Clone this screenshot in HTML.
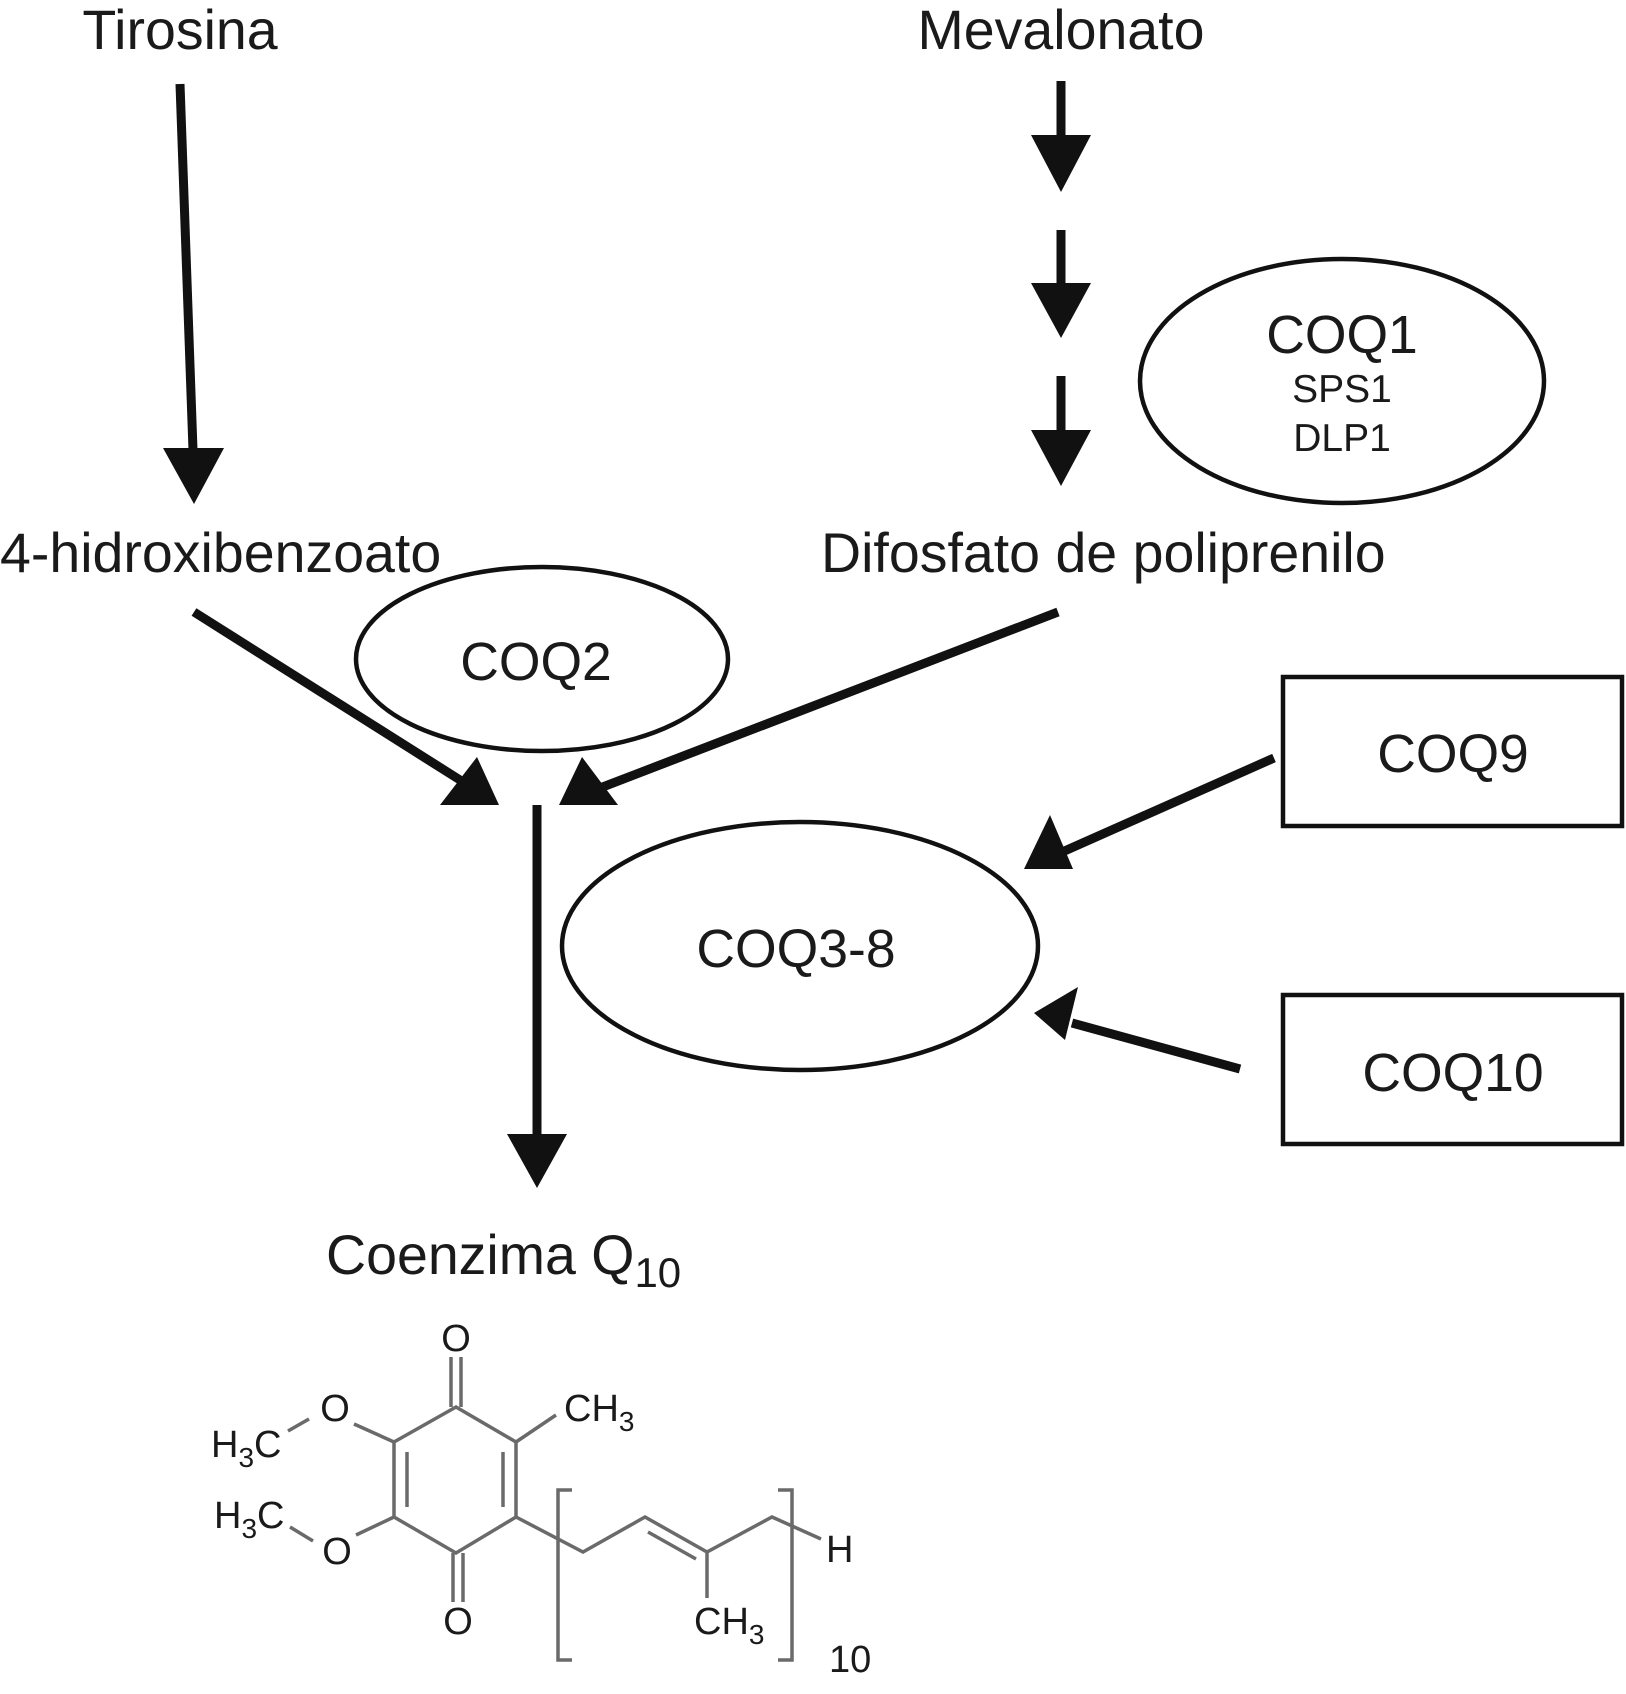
<!DOCTYPE html>
<html><head><meta charset="utf-8"><style>
html,body{margin:0;padding:0;background:#fff}
svg{display:block}
text{font-family:"Liberation Sans",Arial,sans-serif;fill:#1a1a1a}
</style></head><body>
<svg width="1626" height="1694" viewBox="0 0 1626 1694" xmlns="http://www.w3.org/2000/svg">
<g font-size="55.5">
<text x="180" y="49" text-anchor="middle">Tirosina</text>
<text x="1061" y="49" text-anchor="middle">Mevalonato</text>
<text x="0" y="572">4-hidroxibenzoato</text>
<text x="821" y="572">Difosfato de poliprenilo</text>
<text x="326" y="1274">Coenzima Q<tspan font-size="42" dy="13">10</tspan></text>
</g>
<g stroke="#111" stroke-width="9" fill="none">
<line x1="180" y1="84" x2="193" y2="450"/>
<line x1="1061" y1="81" x2="1061" y2="138"/>
<line x1="1061" y1="230" x2="1061" y2="286"/>
<line x1="1061" y1="376" x2="1061" y2="433"/>
<line x1="194" y1="612" x2="460" y2="780"/>
<line x1="1058" y1="612" x2="600" y2="788"/>
<line x1="537" y1="805" x2="537" y2="1138"/>
<line x1="1274" y1="758" x2="1060" y2="853"/>
<line x1="1240" y1="1069" x2="1072" y2="1023"/>
</g>
<g fill="#111">
<polygon points="163,448 224,448 194,504"/>
<polygon points="1031,135 1091,135 1061,192"/>
<polygon points="1031,283 1091,283 1061,338"/>
<polygon points="1031,430 1091,430 1061,486"/>
<polygon points="499,805 440,805 477,757"/>
<polygon points="559,805 582,757 618,805"/>
<polygon points="507,1134 567,1134 537,1188"/>
<polygon points="1024,869 1050,815 1073,869"/>
<polygon points="1034,1013 1078,987 1065,1040"/>
</g>
<g fill="none" stroke="#111" stroke-width="4.5">
<ellipse cx="1342" cy="381" rx="202" ry="122"/>
<ellipse cx="542" cy="659" rx="186" ry="92"/>
<ellipse cx="800" cy="946" rx="238" ry="124"/>
<rect x="1283" y="677" width="339" height="149"/>
<rect x="1283" y="995" width="339" height="149"/>
</g>
<text x="1342" y="353" font-size="53.5" text-anchor="middle">COQ1</text>
<text x="1342" y="402" font-size="39" text-anchor="middle">SPS1</text>
<text x="1342" y="451" font-size="39" text-anchor="middle">DLP1</text>
<text x="536" y="680" font-size="53.5" text-anchor="middle">COQ2</text>
<text x="796" y="967" font-size="53.5" text-anchor="middle">COQ3-8</text>
<text x="1453" y="772" font-size="53.5" text-anchor="middle">COQ9</text>
<text x="1453" y="1091" font-size="53.5" text-anchor="middle">COQ10</text>
<g stroke="#6a6a6a" stroke-width="3.5" fill="none">
<polygon points="456,1407 516,1442 516,1517 456,1553 394,1517 394,1442"/>
<line x1="407" y1="1452" x2="407" y2="1507"/>
<line x1="503" y1="1452" x2="503" y2="1507"/>
<line x1="451" y1="1357" x2="451" y2="1407"/><line x1="461" y1="1357" x2="461" y2="1407"/>
<line x1="453" y1="1553" x2="453" y2="1602"/><line x1="463" y1="1553" x2="463" y2="1602"/>
<line x1="516" y1="1442" x2="556" y2="1415"/>
<line x1="394" y1="1442" x2="354" y2="1424"/>
<line x1="394" y1="1517" x2="356" y2="1535"/>
<line x1="288" y1="1431" x2="309" y2="1419"/>
<line x1="290" y1="1527" x2="313" y2="1541"/>
<polyline points="516,1517 583,1552 645,1517 707,1552 772,1517 821,1539"/>
<line x1="648" y1="1532" x2="696" y2="1559"/>
<line x1="707" y1="1552" x2="707" y2="1598"/>
<polyline points="572,1490 558,1490 558,1660 572,1660"/>
<polyline points="778,1490 792,1490 792,1660 778,1660"/>
</g>
<g font-size="38">
<text x="456" y="1351" text-anchor="middle">O</text>
<text x="458" y="1634" text-anchor="middle">O</text>
<text x="335" y="1421" text-anchor="middle">O</text>
<text x="337" y="1564" text-anchor="middle">O</text>
<text x="564" y="1421">CH<tspan font-size="28" dy="10">3</tspan></text>
<text x="211" y="1457">H<tspan font-size="28" dy="10">3</tspan><tspan dy="-10">C</tspan></text>
<text x="214" y="1528">H<tspan font-size="28" dy="10">3</tspan><tspan dy="-10">C</tspan></text>
<text x="694" y="1634">CH<tspan font-size="28" dy="10">3</tspan></text>
<text x="826" y="1562">H</text>
<text x="829" y="1672">10</text>
</g>
</svg>
</body></html>
